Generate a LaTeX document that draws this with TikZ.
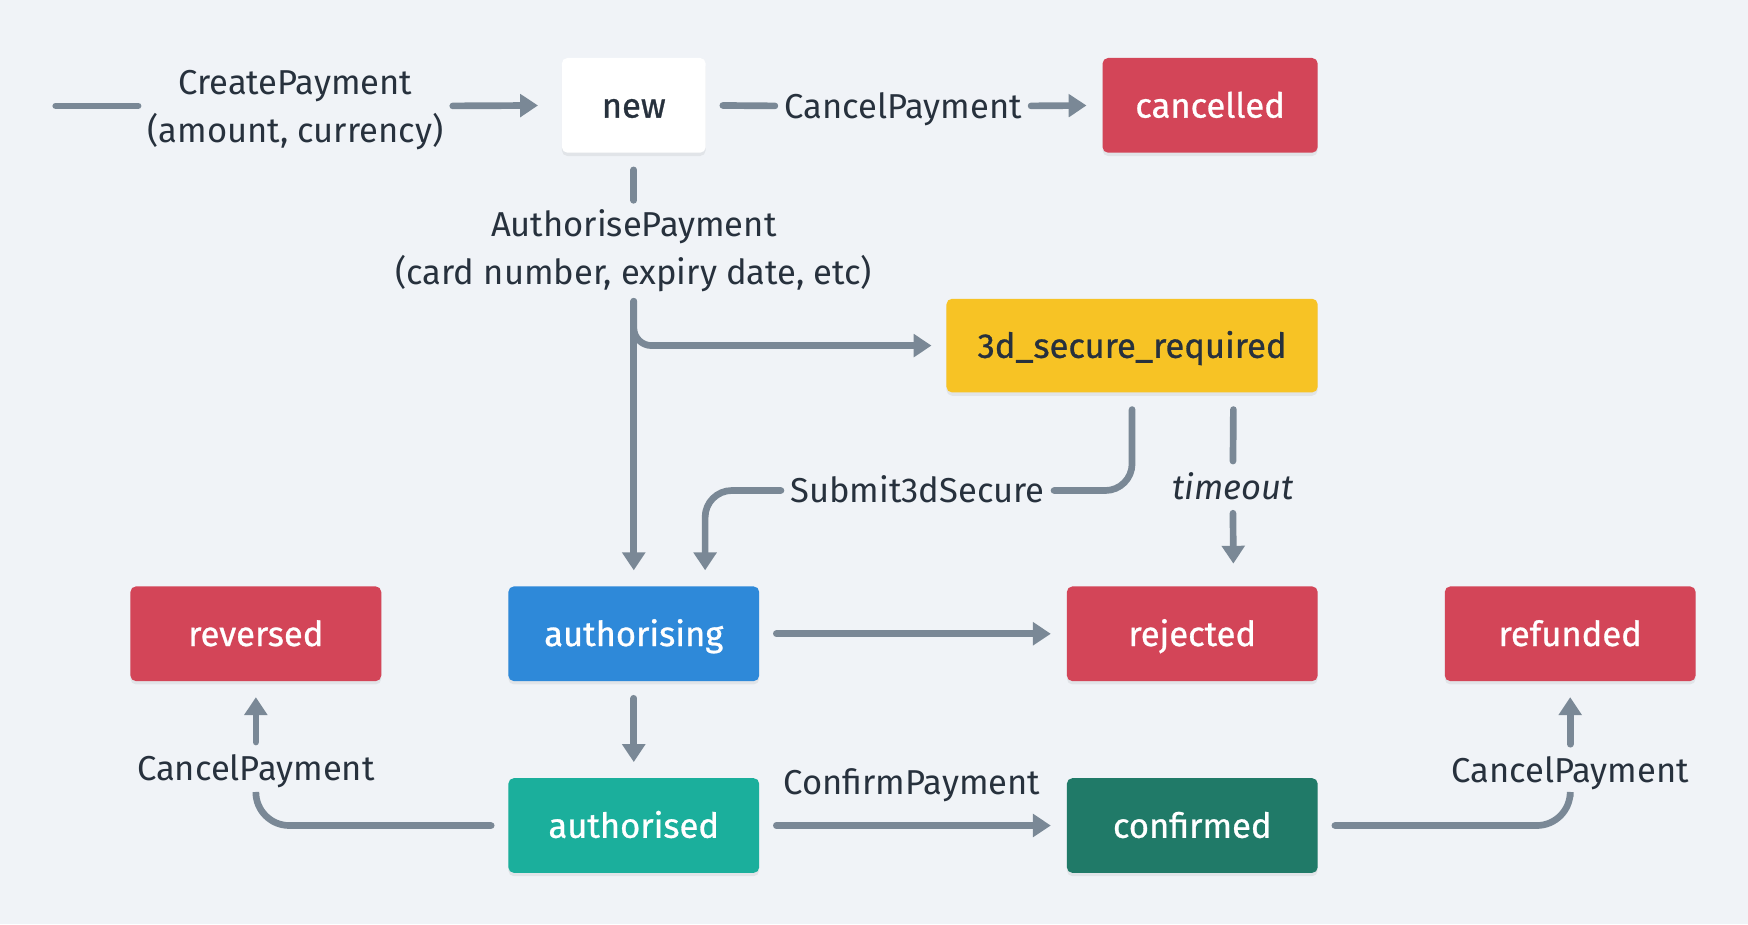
\documentclass[tikz,border=0pt]{standalone}
\usepackage{fontspec}
\setmainfont{Fira Sans}
\newfontfamily\statefont{Fira Sans}[FakeBold=0.8]
\usetikzlibrary{arrows.meta,shadows}
\definecolor{bg}{HTML}{F0F3F7}
\definecolor{redc}{HTML}{D34558}
\definecolor{yellowc}{HTML}{F7C325}
\definecolor{bluec}{HTML}{2E89D9}
\definecolor{tealc}{HTML}{1BAF9C}
\definecolor{greenc}{HTML}{207A68}
\definecolor{linec}{HTML}{7A8896}
\definecolor{txt}{HTML}{27313D}
\begin{document}
\begin{tikzpicture}[x=0.5pt,y=-0.5pt,
  font=\fontsize{15.5}{21.5}\selectfont,
  state/.style={rectangle, rounded corners=2.5pt, minimum width=112.5pt, minimum height=42.5pt, inner sep=0pt, text=white,
    font=\statefont\fontsize{15.5}{21.5}\selectfont,
    text height=13pt, text depth=2pt,
    drop shadow={shadow xshift=0pt,shadow yshift=-1.5pt,opacity=0.06,fill=black}},
  lbl/.style={text=txt, inner sep=4pt, align=center},
  one/.style={text height=13pt, text depth=2pt},
  conn/.style={draw=linec, line width=3pt, line cap=round},
  arr/.style={conn, -{Triangle[width=10pt,length=8pt]}},
  fromb/.style={shorten <=7.5pt},
  tob/.style={shorten >=7pt}
]
\fill[bg] (0,0) rectangle (1568,829);
\useasboundingbox (0,0) rectangle (1568,829);

% states
\node[state, fill=white, text=txt, minimum width=64.5pt] (new) at (568.5,94.5) {new};
\node[state, fill=redc, minimum width=96.5pt] (cancelled) at (1085.5,94.5) {cancelled};
\node[state, fill=yellowc, text=txt, minimum width=166.5pt, minimum height=42pt] (tds) at (1015.5,310) {3d\_secure\_required};
\node[state, fill=bluec] (authorising) at (568.5,568.5) {authorising};
\node[state, fill=redc] (reversed) at (229.5,568.5) {reversed};
\node[state, fill=redc] (rejected) at (1069.5,568.5) {rejected};
\node[state, fill=redc] (refunded) at (1408.5,568.5) {refunded};
\node[state, fill=tealc] (authorised) at (568.5,740.5) {authorised};
\node[state, fill=greenc] (confirmed) at (1069.5,740.5) {confirmed};

% labels
\coordinate (start) at (50,95);
\node[lbl] (cp) at (265,99) {CreatePayment\\(amount, currency)};
\node[lbl, one] (cancel1) at (810,95) {CancelPayment};
\node[lbl] (ap) at (568.5,225) {AuthorisePayment\\(card number, expiry date, etc)};
\node[lbl, one] (s3d) at (823,440) {Submit3dSecure};
\node[lbl, one] (tout) at (1106,437) {\itshape timeout};
\node[lbl, one] (conf) at (818,702) {ConfirmPayment};
\node[lbl, one] (crev) at (229.5,689) {CancelPayment};
\node[lbl, one] (cref) at (1408.5,691) {CancelPayment};

% connectors
\draw[conn] (start) -- (cp.west |- start);
\draw[arr, shorten >=10.5pt] (cp.east |- start) -- (new.west);
\draw[conn, fromb] (new.east) -- (cancel1.west);
\draw[arr, tob] (cancel1.east) -- (cancelled.west);
\draw[conn, fromb] (new.south) -- (ap.north);
\draw[arr, tob] (ap.south) -- (authorising.north);
\draw[arr, rounded corners=8pt, shorten >=6.5pt] (ap.south) |- (tds.west);
\draw[conn, fromb, rounded corners=12pt] (tds.south) |- (s3d.east);
\draw[arr, tob, rounded corners=12pt] (s3d.west) -| ([xshift=32pt]authorising.north);
\draw[conn, fromb] ([xshift=45.5pt]tds.south) -- (tout.north);
\draw[arr, shorten >=10pt] (tout.south) -- ([xshift=18.5pt]rejected.north);
\draw[arr, fromb, tob] (authorising.east) -- (rejected.west);
\draw[arr, fromb, tob] (authorising.south) -- (authorised.north);
\draw[arr, fromb, tob] (authorised.east) -- (confirmed.west);
\draw[conn, fromb, rounded corners=15pt] (authorised.west) -| (crev.south);
\draw[arr, tob] (crev.north) -- (reversed.south);
\draw[conn, fromb, rounded corners=15pt] (confirmed.east) -| (cref.south);
\draw[arr, tob] (cref.north) -- (refunded.south);
\end{tikzpicture}
\end{document}
